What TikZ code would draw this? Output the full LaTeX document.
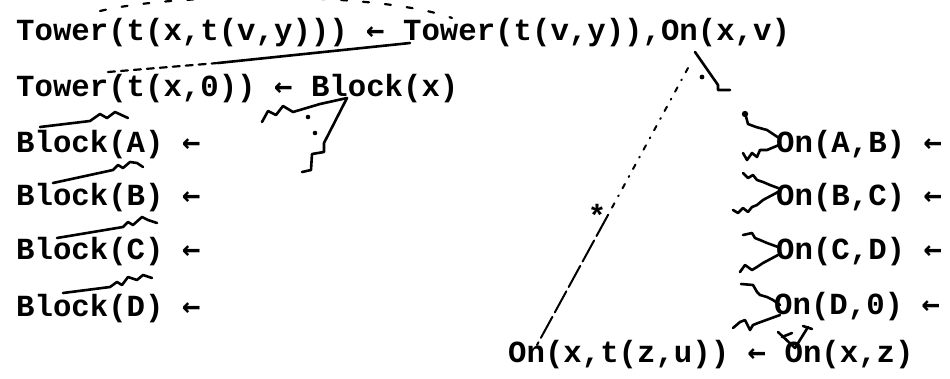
\documentclass[tikz,border=0pt]{standalone}
\usepackage{fontspec}
\newfontfamily\tyfont{Liberation Mono}
\newfontfamily\arrfont{DejaVu Sans Mono}
\newcommand{\larr}{{\arrfont\bfseries ←}}
\begin{document}
\begin{tikzpicture}[x=1pt,y=-1pt,
  txt/.style={inner sep=0pt, anchor=base west, font=\tyfont\bfseries\fontsize{30.7}{36}\selectfont},
  inkline/.style={line width=2.6pt, line cap=round, line join=round},
  inkdash/.style={line width=2.2pt, line cap=round, dash pattern=on 6pt off 16pt},
  dotmark/.style={fill=black, draw=none}]
\useasboundingbox (0,0) rectangle (950,378);
\clip (0,0) rectangle (950,378);
% texts
\node[txt] (t1) at (16,40) {Tower(t(x,t(v,y))) \larr{} Tower(t(v,y)),On(x,v)};
\node[txt] (t2) at (16,96) {Tower(t(x,0)) \larr{} Block(x)};
\node[txt] (bA) at (16,152) {Block(A) \larr};
\node[txt] (bB) at (16,205) {Block(B) \larr};
\node[txt] (bC) at (16,259) {Block(C) \larr};
\node[txt] (bD) at (16,316) {Block(D) \larr};
\node[txt] (oA) at (776,152) {On(A,B) \larr};
\node[txt] (oB) at (776,205) {On(B,C) \larr};
\node[txt] (oC) at (776,259) {On(C,D) \larr};
\node[txt] (oD) at (774,314) {On(D,0) \larr};
\node[txt] (bot) at (508,362) {On(x,t(z,u)) \larr{} On(x,z)};
\node[txt, anchor=base] (star) at (597,226) {*};
% junction coordinates
\coordinate (jb) at (347,98);
\coordinate (jv) at (695,52);
\coordinate (jz) at (795,348);
% dashed arc above line 1
\draw[inkdash] (100,11) .. controls (180,-8) and (380,-8) .. (452,18);
% line 2 to Tower(t(v,y))
\draw[line width=2.2pt, line cap=round, dash pattern=on 7pt off 6pt] (108,72) -- (218,63);
\draw[inkline] (218,63) -- (410,43);
% Block(x) branches
\draw[inkline] (jb) -- (320,104) -- (293,112) -- (283,106) -- (276,115) -- (268,111) -- (262,122);
\draw[inkline] (jb) -- (324,143) -- (324,152) -- (312,154) -- (311,170) -- (302,172);
\fill[dotmark] (308,117) circle (2.3pt) (315,133) circle (2.3pt);
% wavy lines over Block(A..D)
\draw[inkline] (40,127) -- (90,121) -- (100,114) -- (107,118) -- (115,112) -- (128,118);
\draw[inkline] (53,183) -- (113,170) -- (118,165) -- (123,168) -- (130,162) -- (137,163) -- (143,167);
\draw[inkline] (57,238) -- (123,227) -- (128,222) -- (133,225) -- (142,217) -- (148,220) -- (157,223);
\draw[inkline] (63,293) -- (110,287) -- (117,282) -- (122,285) -- (128,277) -- (137,280) -- (143,275) -- (152,278);
% On(x,v) branch
\draw[inkline] (jv) -- (718,85) -- (718,90) -- (730,90);
\fill[dotmark] (702,77) circle (2.4pt);
% dashed line to On(x,t(z,u))
\draw[line width=2pt, line cap=round, dash pattern=on 5pt off 8pt on 1pt off 8pt] (688,68) -- (608,215);
\draw[line width=2pt, line cap=round, dash pattern=on 24pt off 5pt] (608,215) -- (537,345);
% branches to On facts
\draw[inkline] (745,113) -- (748,124) -- (756,127) -- (767,130) -- (779,138);
\fill[dotmark] (745,114) circle (3.2pt);
\draw[inkline] (779,145) -- (767,150) -- (760,150) -- (757,157) -- (752,153) -- (747,160) -- (743,153);
\draw[inkline] (743,173) -- (748,178) -- (753,175) -- (757,180) -- (763,182) -- (770,185) -- (778,188);
\draw[inkline] (778,192) -- (763,200) -- (757,205) -- (752,207) -- (748,212) -- (743,208) -- (738,213) -- (733,210);
\draw[inkline] (743,235) -- (752,233) -- (755,238) -- (760,240) -- (767,243) -- (778,247);
\draw[inkline] (778,255) -- (763,263) -- (757,267) -- (752,270) -- (745,265) -- (740,272);
\draw[inkline] (741,284) -- (753,285) -- (757,292) -- (760,295) -- (767,297) -- (773,300) -- (780,305);
\draw[inkline] (780,315) -- (758,323) -- (753,325) -- (750,330) -- (745,320) -- (740,322) -- (733,328);
% bottom V
\draw[inkline] (778,332) -- (jz) -- (808,327);
\draw[inkline] (782,337) -- (792,333);
\draw[inkline] (803,326) -- (812,329);
\end{tikzpicture}
\end{document}
